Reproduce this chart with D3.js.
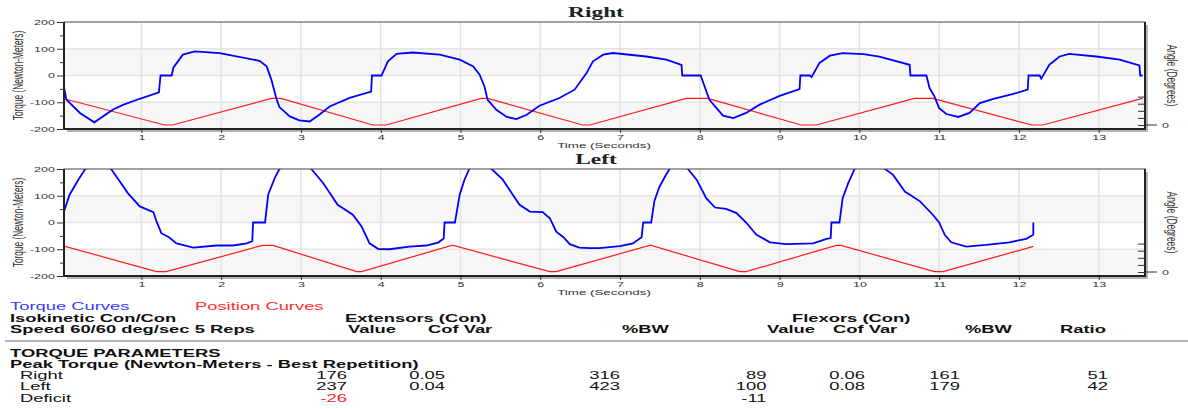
<!DOCTYPE html>
<html>
<head>
<meta charset="utf-8">
<script src="https://cdn.jsdelivr.net/npm/d3@7"></script>
<style>
body { margin: 0; background: #fff; }
svg { display: block; }
</style>
</head>
<body>
<svg id="chart"></svg>
<script>
var width = 1188;
var height = 409;
var SX = 1.67; // the picture is stretched sideways, so is the text

var timeTicks = [1, 2, 3, 4, 5, 6, 7, 8, 9, 10, 11, 12, 13];
var torqueTicks = [-200, -100, 0, 100, 200];
var torqueMinor = [-150, -50, 50, 150];
var angleTicks = [0, 20, 40, 60, 80];
var bands = [[0, 100], [-200, -100]];

// [seconds, newton-meters]
var rightTorque = [
  [0.03, -45], [0.06, -90], [0.23, -140], [0.41, -175], [0.64, -128], [0.77, -110],
  [0.98, -87], [1.22, -63], [1.24, 0], [1.38, 0], [1.40, 29], [1.52, 78], [1.67, 90],
  [1.98, 84], [2.48, 55], [2.57, 34], [2.63, -16], [2.69, -84], [2.73, -118],
  [2.86, -153], [2.98, -168], [3.11, -172], [3.23, -147], [3.36, -116], [3.61, -84],
  [3.88, -60], [3.89, 0], [4.01, 0], [4.09, 53], [4.20, 81], [4.40, 86], [4.74, 78],
  [4.99, 59], [5.16, 34], [5.24, 3], [5.30, -41], [5.34, -91], [5.45, -128],
  [5.58, -155], [5.70, -163], [5.83, -147], [5.99, -113], [6.24, -84], [6.43, -53],
  [6.58, 9], [6.66, 53], [6.79, 78], [6.91, 84], [7.33, 71], [7.58, 59], [7.77, 40],
  [7.78, 0], [8.01, 0], [8.06, -41], [8.12, -91], [8.21, -122], [8.29, -150],
  [8.42, -159], [8.58, -140], [8.75, -109], [9.00, -76], [9.25, -51], [9.26, 0],
  [9.38, 0], [9.40, -6], [9.50, 47], [9.63, 74], [9.79, 84], [10.05, 80], [10.25, 71],
  [10.63, 40], [10.64, 0], [10.84, 0], [10.88, -47], [10.94, -78], [11.00, -122],
  [11.09, -144], [11.24, -155], [11.38, -140], [11.51, -103], [11.67, -88],
  [11.93, -69], [12.11, -53], [12.12, 0], [12.26, 0], [12.28, -12], [12.38, 40],
  [12.51, 71], [12.63, 81], [12.97, 71], [13.26, 59], [13.51, 38], [13.52, 0], [13.55, 0]
];

var leftTorque = [
  [0.03, 41], [0.10, 104], [0.21, 160], [0.29, 197], [0.45, 237], [0.62, 200],
  [0.73, 153], [0.83, 110], [0.98, 60], [1.15, 39], [1.19, 4], [1.25, -40], [1.35, -56],
  [1.44, -78], [1.65, -94], [1.94, -86], [2.15, -86], [2.32, -78], [2.39, -70],
  [2.40, 0], [2.55, 0], [2.59, 105], [2.67, 165], [2.73, 200], [2.93, 235], [3.13, 200],
  [3.28, 147], [3.46, 66], [3.65, 29], [3.76, -15], [3.86, -78], [3.97, -99],
  [4.11, -100], [4.36, -90], [4.57, -86], [4.72, -75], [4.79, -60], [4.80, 0],
  [4.93, 0], [4.99, 104], [5.05, 160], [5.11, 200], [5.25, 230], [5.39, 200],
  [5.53, 160], [5.74, 66], [5.87, 41], [6.03, 39], [6.12, 16], [6.20, -34], [6.29, -55],
  [6.37, -81], [6.49, -94], [6.62, -96], [6.74, -96], [7.00, -88], [7.16, -78],
  [7.27, -55], [7.29, 0], [7.39, 0], [7.43, 80], [7.49, 131], [7.56, 170], [7.62, 200],
  [7.74, 225], [7.85, 200], [7.96, 160], [8.08, 91], [8.19, 56], [8.33, 51],
  [8.46, 35], [8.58, 0], [8.71, -46], [8.88, -74], [9.08, -81], [9.42, -78],
  [9.59, -61], [9.64, -58], [9.65, 0], [9.75, 0], [9.79, 91], [9.86, 147], [9.94, 200],
  [10.13, 225], [10.32, 200], [10.42, 179], [10.57, 116], [10.76, 79], [10.92, 29],
  [11.00, 0], [11.07, -46], [11.15, -74], [11.34, -90], [11.59, -84], [11.88, -74],
  [12.09, -61], [12.18, -46], [12.18, 0]
];

// [seconds, degrees]
var rightAngle = [
  [0.03, 74], [1.29, 0], [1.39, 0], [2.63, 75], [2.75, 75], [3.90, 0], [4.07, 0],
  [5.26, 75], [5.34, 75], [6.53, 0], [6.62, 0], [7.83, 75], [8.10, 75], [9.27, 0],
  [9.46, 0], [10.69, 75], [10.92, 75], [12.16, 0], [12.30, 0], [13.55, 75]
];

var leftAngle = [
  [0.03, 73], [1.19, 1], [1.31, 1], [2.52, 75], [2.65, 75], [3.70, 1], [3.76, 1],
  [4.89, 75], [4.91, 75], [6.12, 1], [6.20, 1], [7.37, 75], [7.39, 75], [8.50, 1],
  [8.58, 1], [9.71, 75], [9.77, 75], [10.94, 1], [11.05, 1], [12.18, 72]
];

var tableRows = ["Right", "Left", "Deficit"];
var extValue = ["176", "237", "-26"];
var extCofVar = ["0.05", "0.04", ""];
var extBW = ["316", "423", ""];
var flexValue = ["89", "100", "-11"];
var flexCofVar = ["0.06", "0.08", ""];
var flexBW = ["161", "179", ""];
var ratio = ["51", "42", ""];

var svg = d3.select("svg#chart")
  .attr("width", width)
  .attr("height", height)
  .style("font-family", "'Liberation Sans', Arial, sans-serif");

var left = 64, right = 1145, plotH = 107;

var x = d3.scaleLinear().domain([0.03, 13.58]).range([left, right]);

// text with the same sideways stretch as the picture
var label = function(g, px, py, s, size, opts) {
  opts = opts || {};
  return g.append("text")
    .attr("transform", "translate(" + px + "," + py + ") scale(" + SX + ",1)")
    .attr("text-anchor", opts.anchor || "start")
    .attr("font-size", size)
    .attr("font-weight", opts.bold ? "bold" : "normal")
    .attr("font-family", opts.family || null)
    .attr("fill", opts.color || "#111")
    .text(s);
};

var stretchAxisText = function(g) {
  g.selectAll(".tick text").each(function() {
    var t = d3.select(this);
    var tx = +t.attr("x") || 0, ty = +t.attr("y") || 0;
    t.attr("x", 0).attr("y", 0)
      .attr("transform", "translate(" + tx + "," + ty + ") scale(" + SX + ",1)");
  });
};

var drawPanel = function(name, top, torque, angle, id) {
  var bottom = top + plotH;
  var y = d3.scaleLinear().domain([-200, 200]).range([bottom, top]);
  var a = d3.scaleLinear().domain([0, 80]).range([bottom - 4, bottom - 4 - 28.4]);
  var g = svg.append("g");

  g.append("clipPath").attr("id", "clip" + id)
    .append("rect").attr("x", left).attr("y", top)
    .attr("width", right - left).attr("height", plotH);

  // shadow
  g.append("rect").attr("x", left + 3).attr("y", top + 3)
    .attr("width", right - left).attr("height", plotH).attr("fill", "#b4b4b4");
  g.append("rect").attr("x", left).attr("y", top)
    .attr("width", right - left).attr("height", plotH).attr("fill", "#fff");

  g.selectAll(".band").data(bands).enter().append("rect")
    .attr("x", left).attr("width", right - left)
    .attr("y", function(d) { return y(d[1]); })
    .attr("height", function(d) { return y(d[0]) - y(d[1]); })
    .attr("fill", "#f7f7f7");

  g.selectAll(".vgrid").data(timeTicks).enter().append("line")
    .attr("x1", function(d) { return x(d); }).attr("x2", function(d) { return x(d); })
    .attr("y1", top).attr("y2", bottom)
    .attr("stroke", "#e4e4e4").attr("stroke-width", 1.5);
  g.selectAll(".hgrid").data([-100, 0, 100]).enter().append("line")
    .attr("x1", left).attr("x2", right)
    .attr("y1", function(d) { return y(d); }).attr("y2", function(d) { return y(d); })
    .attr("stroke", "#e4e4e4").attr("stroke-width", 1.5);

  var lines = g.append("g").attr("clip-path", "url(#clip" + id + ")");
  lines.append("path").datum(angle)
    .attr("d", d3.line().x(function(d) { return x(d[0]); }).y(function(d) { return a(d[1]); }))
    .attr("fill", "none").attr("stroke", "#ff1a1a").attr("stroke-width", 1.2);
  lines.append("path").datum(torque)
    .attr("d", d3.line().x(function(d) { return x(d[0]); }).y(function(d) { return y(d[1]); }))
    .attr("fill", "none").attr("stroke", "#0000ff").attr("stroke-width", 1.8);

  // frame
  g.append("rect").attr("x", left).attr("y", top)
    .attr("width", right - left).attr("height", plotH)
    .attr("fill", "none").attr("stroke", "#444").attr("stroke-width", 1);
  g.append("path")
    .attr("d", "M" + left + "," + top + "V" + bottom + "H" + right + "V" + top)
    .attr("fill", "none").attr("stroke", "#222").attr("stroke-width", 2);

  // torque axis
  var ya = g.append("g").attr("transform", "translate(" + left + ",0)")
    .call(d3.axisLeft(y).tickValues(torqueTicks).tickSize(7).tickPadding(2).tickFormat(String));
  ya.select(".domain").remove();
  ya.selectAll("text").attr("font-size", 7.5).attr("fill", "#333").attr("font-family", null);
  ya.selectAll("line").attr("stroke", "#333");
  stretchAxisText(ya);
  var ym = g.append("g").attr("transform", "translate(" + left + ",0)")
    .call(d3.axisLeft(y).tickValues(torqueMinor).tickSize(4).tickFormat(""));
  ym.select(".domain").remove();
  ym.selectAll("line").attr("stroke", "#333");

  // time axis
  var xa = g.append("g").attr("transform", "translate(0," + (bottom + 1) + ")")
    .call(d3.axisBottom(x).tickValues(timeTicks).tickSize(3).tickPadding(2).tickFormat(String));
  xa.select(".domain").remove();
  xa.selectAll("text").attr("font-size", 7.5).attr("fill", "#333").attr("font-family", null);
  xa.selectAll("line").attr("stroke", "#333");
  stretchAxisText(xa);

  // angle axis, ticks inside the frame
  var aa = g.append("g").attr("transform", "translate(" + right + ",0)")
    .call(d3.axisRight(a).tickValues(angleTicks).tickSizeInner(-7).tickSizeOuter(0).tickPadding(17)
      .tickFormat(function(d) { return d === 0 ? "0" : ""; }));
  aa.select(".domain").remove();
  aa.selectAll("text").attr("font-size", 7.5).attr("fill", "#333").attr("font-family", null);
  aa.selectAll("line").attr("stroke", "#333");
  stretchAxisText(aa);
  g.append("line").attr("x1", right).attr("x2", right + 12)
    .attr("y1", a(0)).attr("y2", a(0)).attr("stroke", "#333");

  // titles
  label(g, 596, top - 5.5, name, 14, { anchor: "middle", bold: true,
    family: "'Liberation Serif', 'Times New Roman', serif", color: "#222" });
  label(g, 604, bottom + 18.5, "Time (Seconds)", 8, { anchor: "middle", color: "#333" });
  g.append("text")
    .attr("transform", "translate(23," + (top + plotH / 2) + ") rotate(-90) scale(1," + SX + ")")
    .attr("text-anchor", "middle").attr("font-size", 8.3).attr("fill", "#333")
    .text("Torque (Newton-Meters)");
  g.append("text")
    .attr("transform", "translate(1167," + (top + plotH / 2) + ") rotate(90) scale(1," + SX + ")")
    .attr("text-anchor", "middle").attr("font-size", 8.5).attr("fill", "#333")
    .text("Angle (Degrees)");
};

drawPanel("Right", 22, rightTorque, rightAngle, 0);
drawPanel("Left", 169, leftTorque, leftAngle, 1);

// text block below the charts
var tb = svg.append("g");
label(tb, 10, 310, "Torque Curves", 11, { color: "#3a3aff" });
label(tb, 195, 310, "Position Curves", 11, { color: "#ff2d2d" });
label(tb, 10, 322, "Isokinetic Con/Con", 11, { bold: true });
label(tb, 345, 322, "Extensors (Con)", 11, { bold: true });
label(tb, 792, 322, "Flexors (Con)", 11, { bold: true });
label(tb, 10, 333, "Speed 60/60 deg/sec 5 Reps", 11, { bold: true });
[["Value", 348], ["Cof Var", 428], ["%BW", 622], ["Value", 767],
 ["Cof Var", 833], ["%BW", 965], ["Ratio", 1060]].forEach(function(h) {
  label(tb, h[1], 333, h[0], 11, { bold: true });
});
tb.append("line").attr("x1", 5).attr("x2", width).attr("y1", 341).attr("y2", 341)
  .attr("stroke", "#9a9a9a").attr("stroke-width", 1.5);
label(tb, 10, 356.5, "TORQUE PARAMETERS", 11, { bold: true });
label(tb, 10, 367.5, "Peak Torque (Newton-Meters - Best Repetition)", 11, { bold: true });

var columns = [
  [extValue, 347], [extCofVar, 445], [extBW, 620], [flexValue, 766.5],
  [flexCofVar, 865], [flexBW, 960], [ratio, 1108]
];
tableRows.forEach(function(r, i) {
  var ry = 379 + i * 11.3;
  label(tb, 20, ry, r, 11);
  columns.forEach(function(c, ci) {
    var v = c[0][i];
    if (!v) return;
    var red = (ci === 0 && r === "Deficit");
    label(tb, c[1], ry, v, 11, { anchor: "end", color: red ? "#ff2020" : "#111" });
  });
});
</script>
</body>
</html>
